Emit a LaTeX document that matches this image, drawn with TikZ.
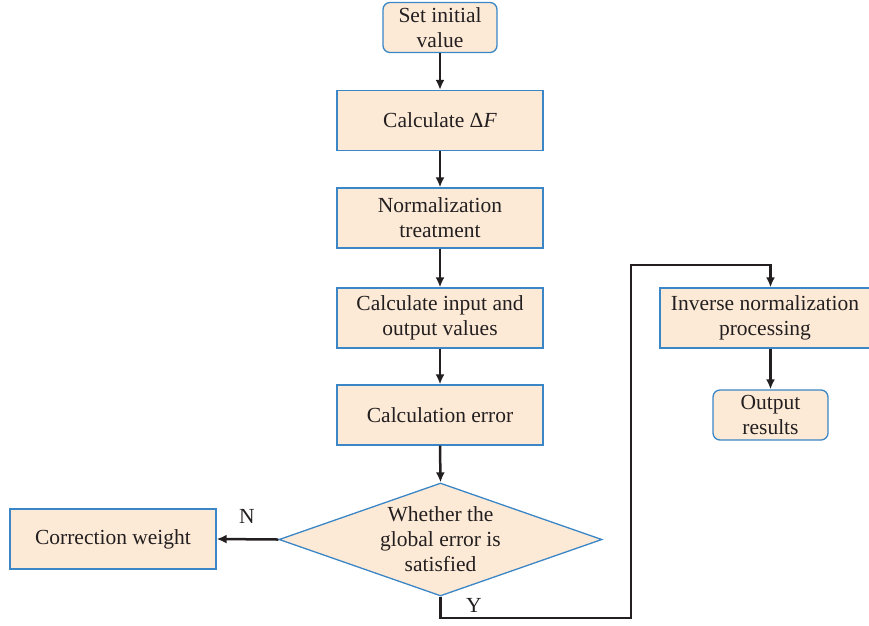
\documentclass[tikz,border=0pt]{standalone}
\usepackage{fontspec}
\setmainfont{Liberation Serif}
\usetikzlibrary{arrows.meta,shapes.geometric}
\definecolor{BoxFill}{HTML}{FCEAD6}
\definecolor{BoxLine}{HTML}{3A86C6}
\definecolor{InkDark}{HTML}{231F20}
\tikzset{
  flowbox/.style={draw=BoxLine,fill=BoxFill,line width=1.3pt,align=center,inner sep=0pt,minimum width=206pt,minimum height=60pt,text=InkDark,font=\fontsize{21.5}{25}\selectfont},
  roundbox/.style={flowbox,rounded corners=7pt,minimum height=50pt},
  decision/.style={diamond,draw=BoxLine,fill=BoxFill,line width=1.3pt,inner sep=0pt,minimum width=323pt,minimum height=113pt},
  flowarrow/.style={-{Latex[length=10pt,width=9pt]},line width=2.5pt,draw=InkDark},
  branchlabel/.style={text=InkDark,font=\fontsize{21.5}{25}\selectfont}
}
\begin{document}
\begin{tikzpicture}[x=1pt,y=-1pt]
\useasboundingbox (0,0) rectangle (869,625);
% main column
\node[roundbox,minimum width=114pt] (init) at (440,27.5) {Set initial\\value};
\node[flowbox] (delta) at (440,120.5) {Calculate Δ\textit{F}};
\node[flowbox] (norm) at (440,218) {Normalization\\treatment};
\node[flowbox] (calcio) at (440,318) {Calculate input and\\output values};
\node[flowbox] (calcerr) at (440,415) {Calculation error};
\node[decision,label={[align=center,text=InkDark,font=\fontsize{21.5}{25}\selectfont]center:Whether the\\global error is\\satisfied}] (check) at (440.5,539.5) {};
% side boxes
\node[flowbox] (corr) at (113,539) {Correction weight};
\node[flowbox,minimum width=210pt] (invnorm) at (765,318) {Inverse normalization\\processing};
\node[roundbox,minimum width=115pt] (result) at (770.5,415) {Output\\results};
\coordinate (ylow) at (631,618);
\coordinate (yhigh) at (631,265);
% connectors
\draw[flowarrow] (init.south) -- (delta.north);
\draw[flowarrow] (delta.south) -- (norm.north);
\draw[flowarrow] (norm.south) -- (calcio.north);
\draw[flowarrow] (calcio.south) -- (calcerr.north);
\draw[flowarrow] (calcerr.south) -- (check.north);
\draw[flowarrow] (check.west) -- (corr.east);
\draw[flowarrow] (check.south) |- (ylow) -- (yhigh) -| (result.north |- invnorm.north);
\draw[flowarrow] (result.north |- invnorm.south) -- (result.north);
\node[branchlabel] (nlabel) at (247,516) {N};
\node[branchlabel] (ylabel) at (474,605) {Y};
\end{tikzpicture}
\end{document}
